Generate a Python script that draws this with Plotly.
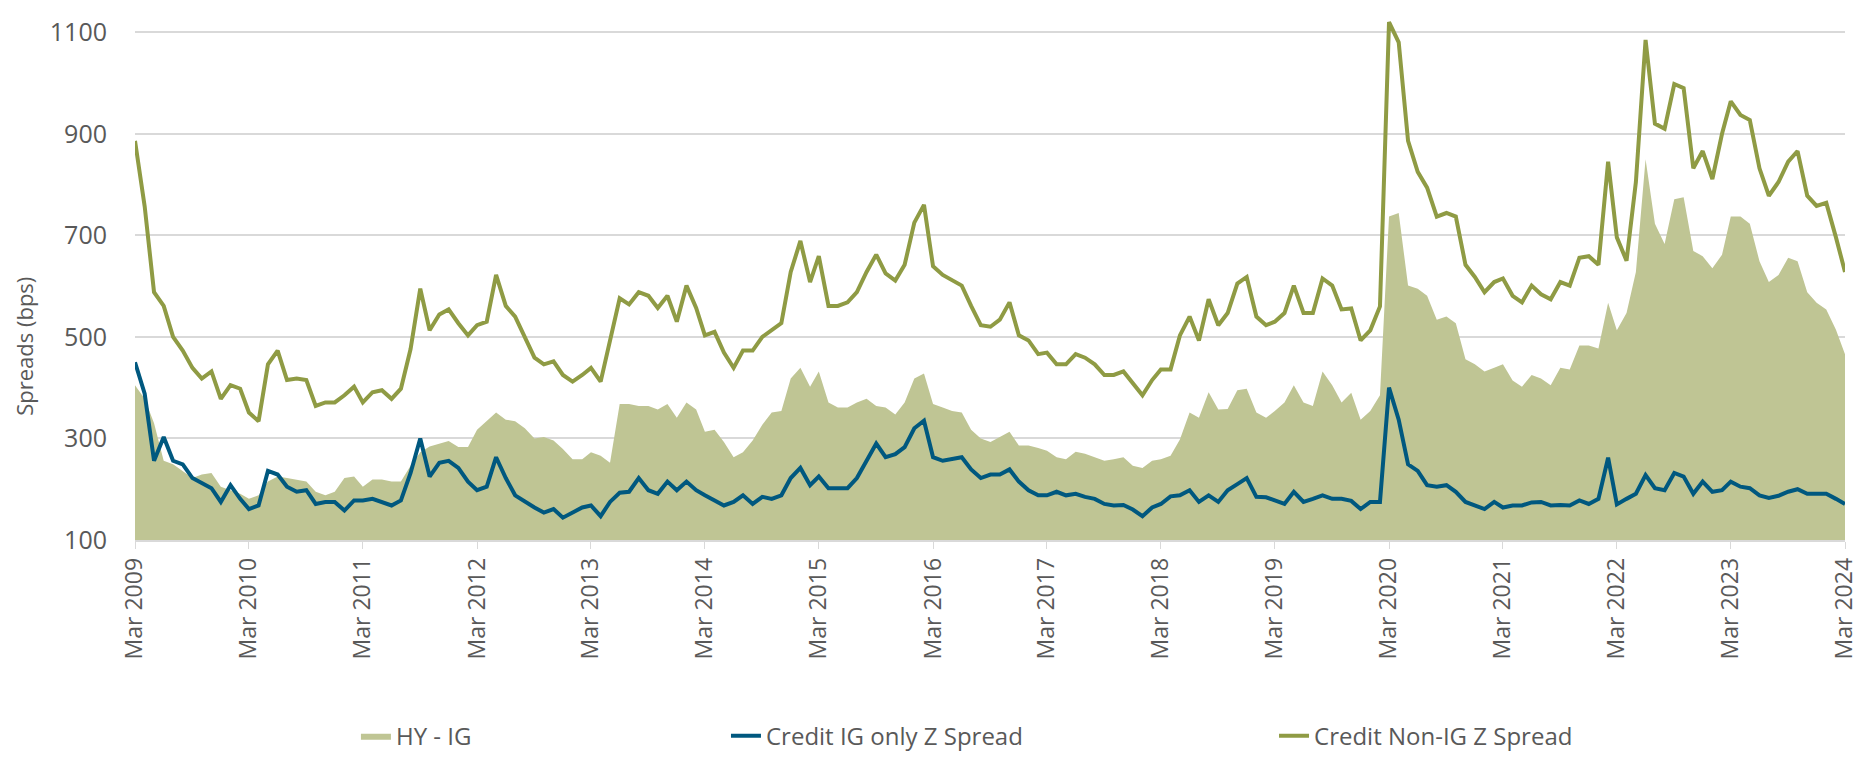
import pandas as pd
import plotly.graph_objects as go

# monthly points, Mar 2009 .. Mar 2024
dates = pd.date_range("2009-03-01", "2024-03-01", freq="MS")

# Credit Non-IG Z Spread (bps)
non_ig = [
    886, 757, 588, 561, 500, 473, 439, 418, 432, 378, 405, 398, 351, 334, 446, 473, 415, 418, 415, 364, 371, 371, 385, 402, 371, 391,
    395, 378, 398, 476, 595, 513, 544, 554, 527, 503, 523, 530, 622, 561, 540, 500, 459, 446, 452, 425, 412, 425, 439, 412, 493, 576,
    564, 588, 581, 557, 581, 530, 601, 557, 503, 510, 469, 439, 473, 473, 500, 513, 527, 628, 689, 608, 659, 561, 561, 568, 588,
    628, 662, 625, 611, 642, 725, 760, 639, 622, 611, 601, 561, 523, 520, 534, 568, 503, 493, 466, 469, 446, 446, 466, 459, 446, 425,
    425, 432, 408, 385, 415, 436, 436, 503, 540, 493, 574, 523, 547, 605, 618, 540, 523, 530, 547, 601, 547, 547, 615, 601, 554, 556,
    493, 513, 560, 1120, 1080, 886, 825, 794, 737, 744, 737, 642, 618, 588, 608, 615, 581, 568, 601, 584, 574, 608, 601, 656, 659,
    642, 845, 696, 650, 805, 1085, 920, 910, 998, 990, 832, 866, 811, 900, 964, 937, 927, 832, 778, 805, 845, 866, 778, 758, 764, 696, 628,
]

# Credit IG only Z Spread (bps)
ig_only = [
    450, 388, 256, 303, 256, 249, 222, 212, 202, 175, 208, 181, 161, 168, 236, 229, 205, 195, 198, 171, 175, 175, 158, 178, 178, 181,
    175, 168, 178, 232, 300, 225, 252, 256, 242, 215, 198, 205, 263, 222, 188, 175, 164, 154, 161, 144, 154, 164, 168, 147, 175, 193,
    195, 222, 198, 191, 215, 198, 215, 198, 188, 178, 168, 175, 188, 171, 185, 181, 188, 222, 242, 208, 225, 202, 202, 202, 222,
    256, 290, 263, 269, 283, 320, 335, 263, 256, 259, 263, 239, 222, 229, 229, 239, 215, 198, 188, 188, 195, 188, 191, 185, 181, 171,
    168, 169, 160, 147, 164, 171, 186, 188, 198, 175, 188, 175, 198, 210, 222, 185, 184, 178, 171, 195, 175, 181, 188, 181, 181, 177,
    161, 175, 175, 400, 337, 249, 236, 208, 205, 208, 195, 175, 168, 161, 175, 164, 168, 168, 174, 175, 168, 169, 168, 178, 171,
    181, 262, 170, 181, 191, 228, 202, 198, 232, 225, 191, 215, 195, 198, 215, 205, 202, 188, 183, 187, 195, 200, 191, 191, 191, 181, 171,
]

# HY - IG (bps)
hy_ig = [
    405, 378, 330, 256, 249, 236, 222, 229, 232, 205, 198, 191, 181, 188, 215, 225, 222, 219, 215, 195, 188, 195, 222, 225, 205, 219,
    219, 215, 215, 246, 273, 284, 290, 295, 283, 283, 317, 334, 351, 337, 334, 320, 300, 303, 296, 279, 259, 259, 273, 266, 252, 368,
    368, 364, 364, 357, 368, 341, 371, 357, 313, 317, 293, 263, 273, 296, 327, 351, 354, 418, 439, 402, 432, 371, 361, 361, 371,
    378, 364, 361, 347, 371, 418, 428, 368, 361, 354, 351, 317, 300, 293, 303, 313, 286, 286, 281, 276, 263, 259, 274, 270, 263, 256,
    259, 263, 246, 242, 256, 259, 266, 298, 351, 341, 391, 357, 358, 395, 398, 351, 341, 354, 371, 405, 371, 364, 432, 405, 371, 390,
    337, 354, 385, 737, 744, 601, 595, 581, 534, 540, 527, 456, 446, 432, 439, 446, 414, 402, 425, 418, 405, 439, 436, 483, 483,
    477, 567, 513, 547, 628, 850, 723, 683, 771, 775, 669, 659, 635, 662, 737, 737, 723, 649, 608, 622, 656, 649, 588, 567, 554, 514, 466,
]

y_ticks = [100, 300, 500, 700, 900, 1100]
x_ticks = pd.date_range("2009-03-01", "2024-03-01", freq="12MS")

grey_text = "#595959"
grid_col = "#D9D9D9"
font_name = "Open Sans"

fig = go.Figure()

fig.add_trace(go.Scatter(
    x=dates, y=hy_ig, name="HY - IG",
    mode="lines", fill="tozeroy", fillcolor="#BFC594",
    line=dict(width=0, color="#BFC594"),
    legend="legend", showlegend=True,
))
fig.add_trace(go.Scatter(
    x=dates, y=ig_only, name="Credit IG only Z Spread",
    mode="lines", line=dict(color="#00587F", width=4),
    legend="legend2", showlegend=True,
))
fig.add_trace(go.Scatter(
    x=dates, y=non_ig, name="Credit Non-IG Z Spread",
    mode="lines", line=dict(color="#8F9B44", width=4),
    legend="legend3", showlegend=True,
))

legend_style = dict(
    orientation="h", yanchor="middle", xanchor="left", y=-0.375,
    font=dict(family=font_name, size=24, color=grey_text),
    bgcolor="rgba(0,0,0,0)",
)

fig.update_layout(
    width=1864, height=757,
    margin=dict(l=127, r=27, t=6, b=217),
    paper_bgcolor="white", plot_bgcolor="white",
    font=dict(family=font_name, color=grey_text),
    showlegend=True,
    legend=dict(legend_style, x=0.1292),
    legend2=dict(legend_style, x=0.3456),
    legend3=dict(legend_style, x=0.6661),
    xaxis=dict(
        type="date",
        range=["2009-03-01", "2024-03-01"],
        tickvals=x_ticks, tickformat="%b %Y", tickangle=-90,
        tickfont=dict(size=23, color=grey_text),
        ticks="outside", ticklen=7, tickcolor=grid_col,
        showgrid=False, showline=True, linecolor=grid_col, linewidth=1.5,
        zeroline=False,
    ),
    yaxis=dict(
        range=[100, 1130],
        tickvals=y_ticks,
        tickfont=dict(size=25, color=grey_text),
        gridcolor=grid_col, gridwidth=1.5,
        ticks="", ticklabelstandoff=27,
        zeroline=False, showline=False,
    ),
    annotations=[dict(
        text="Spreads (bps)", textangle=-90,
        xref="paper", yref="paper", x=-0.065, y=0.371,
        xanchor="center", yanchor="middle", showarrow=False,
        font=dict(family=font_name, size=22, color=grey_text),
    )],
)

fig.write_html("out.html")
